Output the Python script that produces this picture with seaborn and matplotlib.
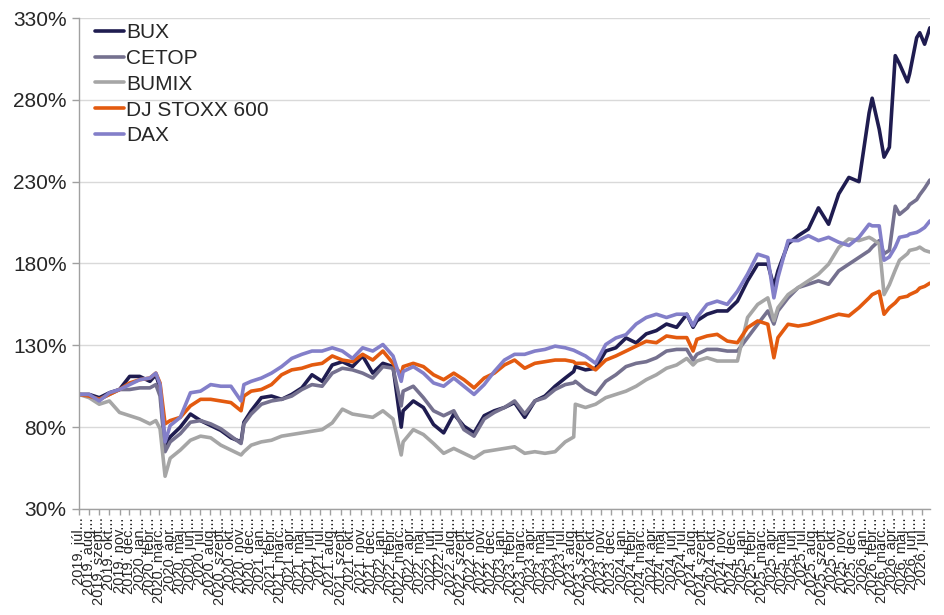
import pandas as pd
import seaborn as sns
import matplotlib.pyplot as plt
from matplotlib.ticker import FuncFormatter

# ======================================
# DATA (% of start value)
# ======================================
SERIES = ["BUX", "CETOP", "BUMIX", "DJ STOXX 600", "DAX"]
COLORS = ["#1f1c50", "#75718f", "#a6a6a6", "#e35a0f", "#837fc9"]

# 85 roughly monthly observations between the first and last day
obs_dates = pd.date_range("2019-07-01", "2026-07-24", periods=85)

bux = [100, 100, 98, 101, 103, 111, 111, 108, 104, 74, 80, 88, 84, 81, 78, 73.5, 71, 90,
       98, 99, 97, 100, 104, 112, 108, 118, 120, 117, 123.5, 113, 119, 117, 90, 96, 92,
       81.6, 76.5, 88, 80.6, 76.5, 87, 90, 92, 95, 86, 96, 99, 105, 110, 117, 115, 116,
       126.5, 128.5, 134.5, 131.5, 137, 139, 143, 141, 149, 145, 149, 151, 151, 157,
       169.4, 179.6, 179.6, 175.5, 192, 197, 201, 214, 204, 222.5, 232.6, 230, 272, 262,
       251, 302, 296, 321, 324]
cetop = [100, 99, 97, 100, 103, 103, 104, 104, 99, 71, 76, 83, 84, 82, 79, 74.5, 70, 88,
         94, 96, 97, 99, 103, 106, 105, 113, 116, 115, 113, 110, 117, 116, 102, 105, 98,
         90, 87, 90, 78.5, 74.5, 85, 89, 92, 96, 88, 96, 98, 103, 106, 108, 103, 100, 108,
         112, 117, 119, 120, 122.4, 126.5, 127.5, 127.5, 124.5, 127.5, 127.5, 126.5,
         126.5, 134.7, 142.9, 151, 151, 159, 165.3, 167.3, 169.4, 167.3, 175.5, 179.6,
         183.7, 187.8, 194, 188, 210, 216, 222, 231]
bumix = [100, 98, 94, 96, 89, 87, 85, 82, 79, 61, 66, 72, 74.5, 73.5, 69, 66, 63, 69, 71,
         72, 74.5, 75.5, 76.5, 77.5, 78.5, 82.6, 91, 88, 87, 86, 90, 85, 71, 78.5, 75.5,
         70, 64, 67, 64, 61, 65, 66, 67, 68, 64, 65, 64, 65, 71, 94, 92, 94, 98, 100, 102,
         105, 109, 112, 116, 118, 122, 120.4, 122.4, 120.4, 120.4, 120.4, 147, 155, 159,
         153, 161, 165.3, 169.4, 173.5, 179.6, 189.8, 195, 194, 196, 192, 167, 182, 188,
         190, 187]
stoxx = [100, 99, 97, 100, 103, 107, 109, 110, 107, 84, 86, 93, 97, 97, 96, 95, 90, 102,
         103, 106, 112, 115, 116, 118, 119, 123.5, 121, 120, 124.5, 121, 126.5, 119, 117,
         119, 117, 112, 109, 113, 109, 104, 110, 113, 118, 121, 116, 119, 120, 121, 121,
         119, 119, 115, 121, 123.5, 126.5, 129.5, 132.5, 131.6, 135.7, 134.7, 134.7,
         133.7, 135.7, 136.7, 132.6, 131.6, 140.8, 144.9, 142.9, 134.7, 142.9, 141.8,
         142.9, 144.9, 147, 149, 148, 153, 159, 163, 153, 159, 161, 165, 168]
dax = [100, 100, 96, 101, 103, 106, 109, 110, 106, 81, 86, 101, 102, 106, 105, 105, 96,
       108, 110, 113, 117, 122, 124.5, 126.5, 126.5, 128.5, 126.5, 122, 128.5, 126.5,
       130.5, 123.5, 114, 117, 113, 107, 105, 110, 105, 100, 106, 114, 121, 124.5, 124.5,
       126.5, 127.5, 129.5, 128.5, 126.5, 123.5, 119, 130.5, 134.5, 136.5, 143, 147, 149,
       147, 149, 149, 147, 155, 157, 155, 163, 173.5, 185.7, 183.7, 171.4, 194, 194, 197,
       194, 196, 193, 191, 196, 204, 203, 184, 196, 198, 200, 206]

# extra readings at sharp turning points (crashes, jumps)
event_dates = ["2020-02-19", "2020-03-18", "2020-11-12", "2022-03-04", "2023-08-09",
               "2024-08-05", "2025-04-07", "2026-01-30", "2026-03-07", "2026-04-10",
               "2026-05-17", "2026-06-14", "2026-07-08"]
ev_bux = [112, 68, 83, 80, 114, 141, 166, 281, 245, 307, 291, 318, 314]
ev_cetop = [106, 65, 82, 93, 107, 121, 143, 190, 186, 215, 214, 219, 226]
ev_bumix = [84, 50, 65, 63, 74, 118, 145, 195, 161, 176, 186, 189, 188]
ev_stoxx = [113, 82, 99, 112, 120, 126.5, 122.4, 161, 149, 156, 160, 163, 166]
ev_dax = [113, 71, 106, 108, 127, 142, 159, 203, 182, 190, 197, 199, 202]

HU_MONTHS = ["jan.", "febr.", "márc.", "ápr.", "máj.", "jún.",
             "júl.", "aug.", "szept.", "okt.", "nov.", "dec."]

# ======================================
# BUILD LONG TABLE
# ======================================
wide = pd.DataFrame(dict(zip(SERIES, [bux, cetop, bumix, stoxx, dax])), index=obs_dates)
ev = pd.DataFrame(dict(zip(SERIES, [ev_bux, ev_cetop, ev_bumix, ev_stoxx, ev_dax])),
                  index=pd.to_datetime(event_dates))
wide = pd.concat([wide, ev]).sort_index()
long = (wide.reset_index(names="date")
            .melt(id_vars="date", var_name="index", value_name="value"))

# ======================================
# PLOT
# ======================================
sns.set_theme(style="white")
plt.rcParams["font.family"] = ["Liberation Sans", "DejaVu Sans"]

fig = plt.figure(figsize=(9.45, 6.15), dpi=100)
ax = fig.add_axes([0.0836, 0.1724, 0.9004, 0.7983])

sns.lineplot(data=long, x="date", y="value", hue="index", hue_order=SERIES,
             palette=COLORS, linewidth=2.6, ax=ax)

ax.set_ylim(30, 330)
ax.set_yticks(range(30, 331, 50))
ax.yaxis.set_major_formatter(FuncFormatter(lambda v, _: f"{v:.0f}%"))
ax.set_xlim(obs_dates[0], obs_dates[-1])

ticks = pd.date_range("2019-07-01", "2026-07-01", freq="MS")
ax.set_xticks(ticks)
ax.set_xticklabels([f"{d.year}. {HU_MONTHS[d.month - 1]}.." for d in ticks],
                   rotation=90, fontsize=10.5)

ax.grid(axis="y", color="#d9d9d9", linewidth=1)
ax.set_axisbelow(True)
for side in ["top", "right"]:
    ax.spines[side].set_visible(False)
for side in ["left", "bottom"]:
    ax.spines[side].set_color("#a0a0a0")
    ax.spines[side].set_linewidth(1)

ax.tick_params(axis="y", labelsize=15, length=5, width=1, color="#a0a0a0",
               direction="out", left=True, pad=4)
ax.tick_params(axis="x", length=4, width=1, color="#a0a0a0", direction="out",
               bottom=True, pad=2)
ax.set_xlabel("")
ax.set_ylabel("")

leg = ax.legend(loc="upper left", bbox_to_anchor=(0.019, 0.99), frameon=False,
                fontsize=15, handlelength=1.4, handletextpad=0.1, labelspacing=0.33,
                borderpad=0, borderaxespad=0)
for line in leg.get_lines():
    line.set_linewidth(2.6)

fig.savefig("out.png", dpi=100)
